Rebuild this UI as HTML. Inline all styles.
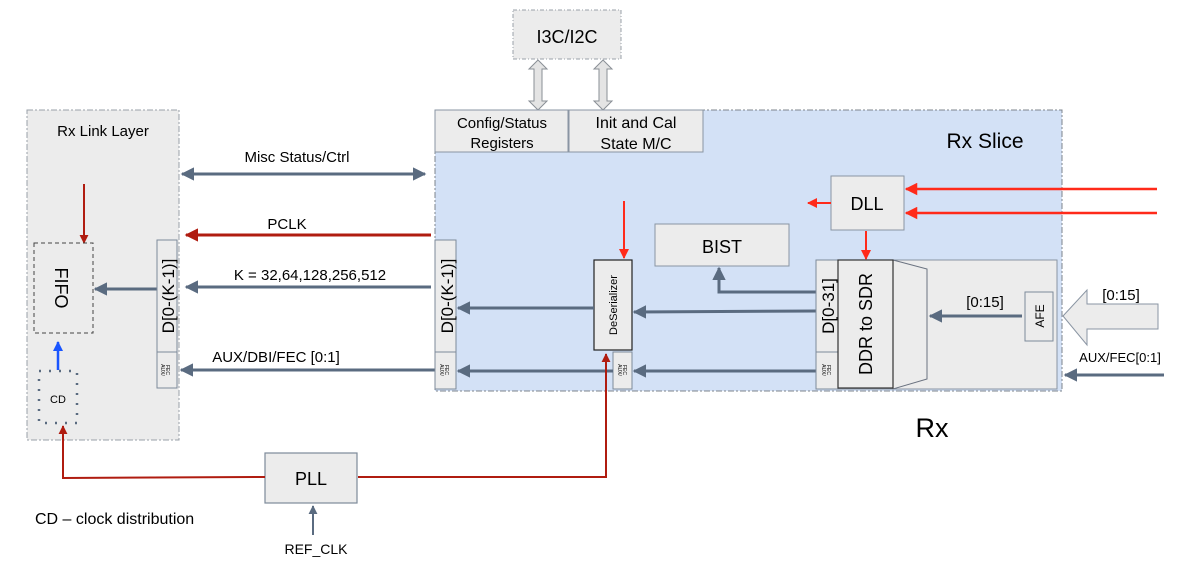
<!DOCTYPE html>
<html><head><meta charset="utf-8"><style>
html,body{margin:0;padding:0;background:#fff;}
svg{display:block;font-family:"Liberation Sans",sans-serif;}
</style></head><body>
<svg width="1186" height="583" viewBox="0 0 1186 583" xmlns="http://www.w3.org/2000/svg">
<defs>
<marker id="ag" viewBox="0 0 10 10" refX="9" refY="5" markerWidth="4.5" markerHeight="4.5" orient="auto-start-reverse"><path d="M0,0L10,5L0,10z" fill="#5a6b80"/></marker>
<marker id="ar" viewBox="0 0 10 10" refX="9" refY="5" markerWidth="5" markerHeight="5" orient="auto"><path d="M0,0L10,5L0,10z" fill="#ff2a1a"/></marker>
<marker id="adr" viewBox="0 0 10 10" refX="9" refY="5" markerWidth="4.5" markerHeight="4.5" orient="auto"><path d="M0,0L10,5L0,10z" fill="#b01c10"/></marker>
<marker id="ab" viewBox="0 0 10 10" refX="9" refY="5" markerWidth="4" markerHeight="4" orient="auto"><path d="M0,0L10,5L0,10z" fill="#1a55ff"/></marker>
</defs>

<rect x="27" y="110" width="152" height="330" fill="#ececec" stroke="#9aa0a8" stroke-dasharray="6,2,2,2"/>
<text x="103" y="136" font-size="15" text-anchor="middle">Rx Link Layer</text>
<line x1="84" y1="184" x2="84" y2="243" stroke="#b01c10" stroke-width="2" marker-end="url(#adr)"/>
<rect x="34" y="243" width="59" height="90" fill="none" stroke="#444" stroke-dasharray="4,3"/>
<text transform="translate(55,288) rotate(90)" font-size="18" text-anchor="middle">FIFO</text>
<line x1="157" y1="289" x2="95" y2="289" stroke="#5a6b80" stroke-width="3" marker-end="url(#ag)"/>
<rect x="157" y="240" width="20" height="112" fill="#ececec" stroke="#7d8a9a"/>
<text transform="translate(174,296) rotate(-90)" font-size="17" text-anchor="middle">D[0-(K-1)]</text>
<rect x="157" y="352" width="20" height="36" fill="#ececec" stroke="#7d8a9a"/>
<text transform="translate(161,370) rotate(90)" font-size="5" text-anchor="middle">AUX/</text>
<text transform="translate(166,370) rotate(90)" font-size="5" text-anchor="middle">FEC</text>
<rect x="39" y="371" width="38" height="52" fill="none" stroke="#5a6b80" stroke-width="2.5" stroke-dasharray="2,8"/>
<text x="58" y="403" font-size="11" text-anchor="middle">CD</text>
<line x1="58" y1="370" x2="58" y2="342" stroke="#1a55ff" stroke-width="2.5" marker-end="url(#ab)"/>

<line x1="182" y1="174" x2="425" y2="174" stroke="#5a6b80" stroke-width="3" marker-start="url(#ag)" marker-end="url(#ag)"/>
<text x="297" y="162" font-size="15" text-anchor="middle">Misc Status/Ctrl</text>
<line x1="431" y1="235" x2="186" y2="235" stroke="#b01c10" stroke-width="3" marker-end="url(#adr)"/>
<text x="287" y="229" font-size="15" text-anchor="middle">PCLK</text>
<line x1="431" y1="287" x2="186" y2="287" stroke="#5a6b80" stroke-width="3" marker-end="url(#ag)"/>
<text x="310" y="280" font-size="15" text-anchor="middle">K = 32,64,128,256,512</text>
<line x1="435" y1="370" x2="181" y2="370" stroke="#5a6b80" stroke-width="3" marker-end="url(#ag)"/>
<text x="276" y="362" font-size="15" text-anchor="middle">AUX/DBI/FEC [0:1]</text>

<rect x="513" y="10" width="108" height="49" fill="#ececec" stroke="#9aa0a8" stroke-dasharray="4,2,1,2"/>
<text x="567" y="43" font-size="18" text-anchor="middle">I3C/I2C</text>
<path d="M538,60 l-9,9 h5 v32 h-5 l9,9 l9,-9 h-5 v-32 h5 z" fill="#e4e4e4" stroke="#8a8f96"/>
<path d="M603,60 l-9,9 h5 v32 h-5 l9,9 l9,-9 h-5 v-32 h5 z" fill="#e4e4e4" stroke="#8a8f96"/>

<rect x="435" y="110" width="627" height="281" fill="#d3e1f6" stroke="#7d848c" stroke-dasharray="6,2,2,2"/>
<rect x="435" y="110" width="133" height="42" fill="#ececec" stroke="#8a95a3"/>
<text x="502" y="128" font-size="15" text-anchor="middle">Config/Status</text>
<text x="502" y="148" font-size="15" text-anchor="middle">Registers</text>
<rect x="569" y="110" width="134" height="42" fill="#ececec" stroke="#8a95a3"/>
<text x="636" y="128" font-size="16" text-anchor="middle">Init and Cal</text>
<text x="636" y="149" font-size="16" text-anchor="middle">State M/C</text>
<text x="985" y="148" font-size="21" text-anchor="middle">Rx Slice</text>

<rect x="831" y="176" width="73" height="54" fill="#ececec" stroke="#8a95a3"/>
<text x="867" y="210" font-size="18" text-anchor="middle">DLL</text>
<line x1="1157" y1="189" x2="906" y2="189" stroke="#ff2a1a" stroke-width="2.5" marker-end="url(#ar)"/>
<line x1="1157" y1="213" x2="906" y2="213" stroke="#ff2a1a" stroke-width="2.5" marker-end="url(#ar)"/>
<line x1="831" y1="203" x2="808" y2="203" stroke="#ff2a1a" stroke-width="2" marker-end="url(#ar)"/>
<line x1="866" y1="231" x2="866" y2="259" stroke="#ff2a1a" stroke-width="2" marker-end="url(#ar)"/>

<rect x="655" y="224" width="134" height="42" fill="#ececec" stroke="#8a95a3"/>
<text x="722" y="253" font-size="18" text-anchor="middle">BIST</text>
<polyline points="816,292 719,292 719,268" fill="none" stroke="#5a6b80" stroke-width="3" marker-end="url(#ag)"/>

<rect x="435" y="240" width="21" height="112" fill="#ececec" stroke="#7d8a9a"/>
<text transform="translate(453,296) rotate(-90)" font-size="17" text-anchor="middle">D[0-(K-1)]</text>
<rect x="435" y="352" width="21" height="37" fill="#ececec" stroke="#7d8a9a"/>
<text transform="translate(440,370) rotate(90)" font-size="5" text-anchor="middle">AUX/</text>
<text transform="translate(445,370) rotate(90)" font-size="5" text-anchor="middle">FEC</text>

<rect x="594" y="260" width="38" height="90" fill="#ececec" stroke="#222" stroke-width="1.2"/>
<text transform="translate(617,305) rotate(-90)" font-size="11" text-anchor="middle">DeSerializer</text>
<line x1="624" y1="201" x2="624" y2="258" stroke="#ff2a1a" stroke-width="2" marker-end="url(#ar)"/>
<rect x="613" y="352" width="19" height="37" fill="#ececec" stroke="#7d8a9a"/>
<text transform="translate(618,370) rotate(90)" font-size="5" text-anchor="middle">AUX/</text>
<text transform="translate(623,370) rotate(90)" font-size="5" text-anchor="middle">FEC</text>
<line x1="594" y1="308" x2="458" y2="308" stroke="#5a6b80" stroke-width="3" marker-end="url(#ag)"/>
<line x1="816" y1="311" x2="634" y2="312" stroke="#5a6b80" stroke-width="3" marker-end="url(#ag)"/>
<line x1="613" y1="371" x2="458" y2="371" stroke="#5a6b80" stroke-width="3" marker-end="url(#ag)"/>
<line x1="816" y1="371" x2="634" y2="371" stroke="#5a6b80" stroke-width="3" marker-end="url(#ag)"/>

<rect x="816" y="260" width="241" height="129" fill="#ececec" stroke="#8a95a3"/>
<rect x="816" y="260" width="22" height="92" fill="#ececec" stroke="#7d8a9a"/>
<text transform="translate(834,306) rotate(-90)" font-size="17" text-anchor="middle">D[0-31]</text>
<rect x="816" y="352" width="22" height="37" fill="#ececec" stroke="#7d8a9a"/>
<text transform="translate(822,370) rotate(90)" font-size="5" text-anchor="middle">AUX/</text>
<text transform="translate(827,370) rotate(90)" font-size="5" text-anchor="middle">FEC</text>
<path d="M893,260 L927,269 L927,379 L893,389 Z" fill="#ececec" stroke="#6a7280"/>
<rect x="838" y="260" width="55" height="128" fill="#ececec" stroke="#333" stroke-width="1.2"/>
<text transform="translate(872,324) rotate(-90)" font-size="18" text-anchor="middle">DDR to SDR</text>
<rect x="1025" y="292" width="28" height="49" fill="#ececec" stroke="#7d8a9a"/>
<text transform="translate(1044,316) rotate(-90)" font-size="12" text-anchor="middle">AFE</text>
<line x1="1022" y1="316" x2="930" y2="316" stroke="#5a6b80" stroke-width="3" marker-end="url(#ag)"/>
<text x="985" y="307" font-size="15" text-anchor="middle">[0:15]</text>

<path d="M1063,316 L1087,290 L1087,304 L1158,304 L1158,329 L1087,329 L1087,345 Z" fill="#ececec" stroke="#8a95a3"/>
<text x="1121" y="300" font-size="15" text-anchor="middle">[0:15]</text>
<text x="1120" y="362" font-size="13" text-anchor="middle">AUX/FEC[0:1]</text>
<line x1="1164" y1="375" x2="1065" y2="375" stroke="#5a6b80" stroke-width="3" marker-end="url(#ag)"/>

<text x="932" y="437" font-size="27" text-anchor="middle">Rx</text>

<rect x="265" y="453" width="92" height="50" fill="#ececec" stroke="#7d8a9a" stroke-width="1.2"/>
<text x="311" y="485" font-size="18" text-anchor="middle">PLL</text>
<polyline points="265,477 63,478 63,426" fill="none" stroke="#b01c10" stroke-width="2" marker-end="url(#adr)"/>
<polyline points="358,477 606,477 606,354" fill="none" stroke="#b01c10" stroke-width="2" marker-end="url(#adr)"/>
<line x1="313" y1="535" x2="313" y2="506" stroke="#5a6b80" stroke-width="2" marker-end="url(#ag)"/>
<text x="316" y="554" font-size="14" text-anchor="middle">REF_CLK</text>
<text x="35" y="524" font-size="16">CD – clock distribution</text>
</svg>
</body></html>
